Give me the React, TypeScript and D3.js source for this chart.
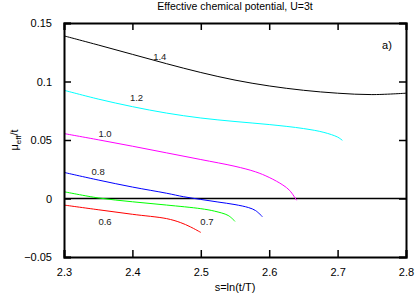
import * as d3 from "d3";
import { useEffect, useRef } from "react";

// x = s = ln(t/T), y = mu_eff / t
const s14 = [2.3, 2.35, 2.4, 2.45, 2.5, 2.55, 2.6, 2.65, 2.7, 2.75, 2.8];
const mu14 = [0.139, 0.1312, 0.1232, 0.1152, 0.1077, 0.1012, 0.0962, 0.0925, 0.09, 0.0888, 0.09];

const s12 = [2.3, 2.35, 2.4, 2.45, 2.5, 2.55, 2.6, 2.65, 2.68, 2.7, 2.707];
const mu12 = [0.0925, 0.085, 0.0785, 0.073, 0.0688, 0.0658, 0.0632, 0.0598, 0.0565, 0.0525, 0.0497];

const s10 = [2.3, 2.35, 2.4, 2.45, 2.5, 2.55, 2.58, 2.6, 2.62, 2.63, 2.64];
const mu10 = [0.0555, 0.0502, 0.0447, 0.039, 0.0333, 0.0275, 0.0228, 0.018, 0.0115, 0.0068, -0.0015];

const s08 = [2.3, 2.35, 2.4, 2.45, 2.475, 2.5, 2.525, 2.55, 2.57, 2.58, 2.59];
const mu08 = [0.0223, 0.0158, 0.0098, 0.0045, 0.0015, -0.0008, -0.003, -0.0052, -0.0078, -0.0103, -0.0155];

const s07 = [2.3, 2.35, 2.4, 2.45, 2.5, 2.52, 2.54, 2.55];
const mu07 = [0.0058, 0.0005, -0.0028, -0.0056, -0.0087, -0.0108, -0.0145, -0.0195];

const s06 = [2.3, 2.35, 2.4, 2.45, 2.47, 2.485, 2.5];
const mu06 = [-0.0056, -0.0096, -0.0135, -0.0172, -0.0205, -0.0243, -0.029];

const series = [
  { name: "1.4", s: s14, mu: mu14, color: "#000000", lx: 2.44, ly: 0.1205 },
  { name: "1.2", s: s12, mu: mu12, color: "#00ffff", lx: 2.406, ly: 0.0857 },
  { name: "1.0", s: s10, mu: mu10, color: "#ff00ff", lx: 2.36, ly: 0.055 },
  { name: "0.8", s: s08, mu: mu08, color: "#0000ff", lx: 2.35, ly: 0.0225 },
  { name: "0.6", s: s06, mu: mu06, color: "#ff0000", lx: 2.36, ly: -0.0205 },
  { name: "0.7", s: s07, mu: mu07, color: "#00ff00", lx: 2.509, ly: -0.0205 },
];

const xTicks = [2.3, 2.4, 2.5, 2.6, 2.7, 2.8];
const yTicks = [-0.05, 0, 0.05, 0.1, 0.15];

export default function App() {
  const ref = useRef<SVGSVGElement>(null);

  useEffect(() => {
    const svg = d3.select(ref.current);
    svg.selectAll("*").remove();

    const width = 416;
    const height = 295;
    const margin = { top: 23, right: 10, bottom: 38, left: 64 };
    const font = "'Liberation Sans', Arial, sans-serif";

    const x = d3.scaleLinear().domain([2.3, 2.8]).range([margin.left, width - margin.right]);
    const y = d3.scaleLinear().domain([-0.05, 0.15]).range([height - margin.bottom, margin.top]);

    // title
    svg.append("text")
      .attr("x", (x(2.3) + x(2.8)) / 2)
      .attr("y", 10)
      .attr("text-anchor", "middle")
      .attr("font-family", font)
      .attr("font-size", 10.5)
      .text("Effective chemical potential, U=3t");

    // zero line
    svg.append("line")
      .attr("x1", x(2.3)).attr("x2", x(2.8))
      .attr("y1", y(0)).attr("y2", y(0))
      .attr("stroke", "#000").attr("stroke-width", 1.3);

    const line = d3.line<[number, number]>()
      .x(d => x(d[0]))
      .y(d => y(d[1]))
      .curve(d3.curveCatmullRom.alpha(0.5));

    svg.append("g")
      .selectAll("path")
      .data(series)
      .join("path")
      .attr("d", d => line(d.s.map((v, i) => [v, d.mu[i]] as [number, number])))
      .attr("fill", "none")
      .attr("stroke", d => d.color)
      .attr("stroke-width", 1);

    svg.append("g")
      .selectAll("text")
      .data(series)
      .join("text")
      .attr("x", d => x(d.lx))
      .attr("y", d => y(d.ly))
      .attr("text-anchor", "middle")
      .attr("dominant-baseline", "middle")
      .attr("font-family", font)
      .attr("font-size", 9.5)
      .attr("fill", "#222")
      .text(d => d.name);

    svg.append("text")
      .attr("x", 387)
      .attr("y", 46)
      .attr("text-anchor", "middle")
      .attr("dominant-baseline", "middle")
      .attr("font-family", font)
      .attr("font-size", 11)
      .text("a)");

    // axes (inward ticks on all sides)
    const tl = 7;
    const bottom = svg.append("g")
      .attr("transform", `translate(0,${y(-0.05)})`)
      .call(d3.axisBottom(x).tickValues(xTicks).tickSize(-tl).tickPadding(tl + 4).tickFormat(d3.format(".1f")));
    const top = svg.append("g")
      .attr("transform", `translate(0,${y(0.15)})`)
      .call(d3.axisTop(x).tickValues(xTicks).tickSize(-tl).tickFormat(() => ""));
    const left = svg.append("g")
      .attr("transform", `translate(${x(2.3)},0)`)
      .call(d3.axisLeft(y).tickValues(yTicks).tickSize(-tl).tickPadding(tl + 5).tickFormat(d => (d === 0 ? "0" : d3.format("")(+d.valueOf().toFixed(2)))));
    const right = svg.append("g")
      .attr("transform", `translate(${x(2.8)},0)`)
      .call(d3.axisRight(y).tickValues(yTicks).tickSize(-tl).tickFormat(() => ""));

    [bottom, top, left, right].forEach(g => {
      g.select(".domain").attr("stroke-width", 2).attr("stroke", "#000");
      g.selectAll(".tick line").attr("stroke-width", 1.5).attr("stroke", "#000");
      g.selectAll(".tick text").attr("font-family", font).attr("font-size", 11).attr("fill", "#000");
    });

    svg.append("text")
      .attr("x", (x(2.3) + x(2.8)) / 2)
      .attr("y", 291)
      .attr("text-anchor", "middle")
      .attr("font-family", font)
      .attr("font-size", 11)
      .text("s=ln(t/T)");

    const yl = svg.append("text")
      .attr("transform", `translate(18,${y(0.05)}) rotate(-90)`)
      .attr("text-anchor", "middle")
      .attr("font-family", font)
      .attr("font-size", 11);
    yl.append("tspan").text("μ");
    yl.append("tspan").attr("font-size", 8).attr("dy", 3).text("eff");
    yl.append("tspan").attr("dy", -3).text("/t");
  }, []);

  return (
    <svg ref={ref} width={416} height={295} style={{ position: "absolute", left: 0, top: 0 }}></svg>
  );
}
